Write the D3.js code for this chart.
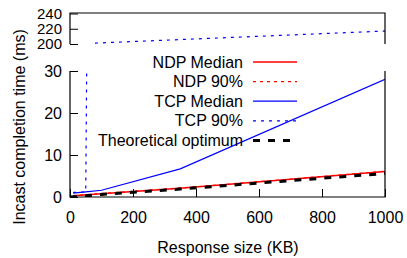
<!DOCTYPE html>
<html>
<head>
<meta charset="utf-8">
<script src="https://cdn.jsdelivr.net/npm/d3@7"></script>
<style>
    body { margin: 0; background: #fff; }
    svg text { font-family: "Liberation Sans", Arial, sans-serif; font-size: 16px; fill: #000; }
</style>
</head>
<body>
<svg id="chart" width="407" height="258"></svg>
<script>
//Response sizes (KB) and completion times (ms) per series
var tcpMedianX = [10, 50, 100, 350, 1000];
var tcpMedianY = [0.9, 1.2, 1.6, 6.7, 28];

var tcp90X = [10, 50, 70, 1000];
var tcp90Y = [1.1, 1.2, 201, 217];

var ndpMedianX = [10, 100, 350, 700, 1000];
var ndpMedianY = [0.3, 0.8, 2.1, 4.2, 6.1];

var ndp90X = [10, 100, 350, 700, 1000];
var ndp90Y = [0.35, 0.85, 2.15, 4.25, 6.15];

var optimumX = [0, 100, 350, 700, 1000];
var optimumY = [0, 0.6, 1.9, 3.9, 5.6];

//Tick labels
var xTicks = [0, 200, 400, 600, 800, 1000];
var yTicksLow = [0, 10, 20, 30];
var yTicksHigh = [200, 220, 240];

//Legend entries
var legendNames = ["NDP Median", "NDP 90%", "TCP Median", "TCP 90%", "Theoretical optimum"];

var svg = d3.select("#chart");

//Scales, the y axis is broken in two panels
var x = d3.scaleLinear().domain([0, 1000]).range([70, 385]);
var yLow = d3.scaleLinear().domain([0, 30]).range([197, 71]);
var yHigh = d3.scaleLinear().domain([200, 240]).range([44, 13.5]);

//Line styles per series
var styles = [
    {x: ndpMedianX, y: ndpMedianY, color: "#ff0000", width: 1.5, dash: null},
    {x: ndp90X, y: ndp90Y, color: "#ff0000", width: 1.2, dash: "3,4"},
    {x: tcpMedianX, y: tcpMedianY, color: "#0000ff", width: 1.2, dash: null},
    {x: tcp90X, y: tcp90Y, color: "#0000ff", width: 1.2, dash: "3,5"},
    {x: optimumX, y: optimumY, color: "#000000", width: 3, dash: "7,8"}
];

//Clip paths for both panels
var defs = svg.append("defs");
defs.append("clipPath").attr("id", "clipLow")
    .append("rect").attr("x", 70).attr("y", 71).attr("width", 315).attr("height", 126);
defs.append("clipPath").attr("id", "clipHigh")
    .append("rect").attr("x", 70).attr("y", 13).attr("width", 315).attr("height", 31);

//Draw one panel of the series
function drawPanel(yScale, clipId){
    var g = svg.append("g").attr("clip-path", "url(#" + clipId + ")");
    styles.forEach(function(s){
        var pts = s.x.map(function(v, i){ return [v, s.y[i]]; });
        var line = d3.line()
            .x(function(d){ return x(d[0]); })
            .y(function(d){ return yScale(d[1]); });
        var p = g.append("path")
            .attr("d", line(pts))
            .attr("fill", "none")
            .attr("stroke", s.color)
            .attr("stroke-width", s.width);
        if (s.dash) p.attr("stroke-dasharray", s.dash);
    });
}

drawPanel(yLow, "clipLow");
drawPanel(yHigh, "clipHigh");

//Axes with inward ticks
function styleAxis(g){
    g.select(".domain").remove();
    g.selectAll(".tick line").attr("stroke", "#000");
    g.selectAll(".tick text").attr("font-size", null).attr("font-family", null);
}

svg.append("g")
    .attr("transform", "translate(0,197)")
    .call(d3.axisBottom(x).tickValues(xTicks).tickFormat(d3.format("d"))
        .tickSizeInner(-8).tickSizeOuter(0).tickPadding(15))
    .call(styleAxis);

svg.append("g")
    .attr("transform", "translate(70,0)")
    .call(d3.axisLeft(yLow).tickValues(yTicksLow).tickSizeInner(-8).tickSizeOuter(0).tickPadding(8))
    .call(styleAxis);

//Top panel labels sit close together, slightly smaller
svg.append("g")
    .attr("transform", "translate(70,0)")
    .call(d3.axisLeft(yHigh).tickValues(yTicksHigh).tickSizeInner(-8).tickSizeOuter(0).tickPadding(8))
    .call(styleAxis)
    .selectAll(".tick text").style("font-size", "15px");

//Frame lines of the two panels
var frame = d3.path();
frame.moveTo(70, 44); frame.lineTo(70, 13); frame.lineTo(385, 13); frame.lineTo(385, 44);
frame.moveTo(70, 71); frame.lineTo(70, 197); frame.lineTo(385, 197); frame.lineTo(385, 71);
svg.append("path")
    .attr("d", frame.toString())
    .attr("fill", "none")
    .attr("stroke", "#000")
    .attr("stroke-width", 1.2);

//Legend
var legend = svg.append("g");
legendNames.forEach(function(name, i){
    var yy = 62 + i * 19.6;
    legend.append("text")
        .attr("x", 243)
        .attr("y", yy)
        .attr("dy", "0.35em")
        .attr("text-anchor", "end")
        .text(name);
    var s = styles[i];
    var l = legend.append("line")
        .attr("x1", 253).attr("x2", 297)
        .attr("y1", yy).attr("y2", yy)
        .attr("stroke", s.color)
        .attr("stroke-width", s.width);
    if (s.dash) l.attr("stroke-dasharray", s.dash);
});

//Axis titles
svg.append("text")
    .attr("x", 228)
    .attr("y", 253)
    .attr("text-anchor", "middle")
    .text("Response size (KB)");

svg.append("text")
    .attr("transform", "translate(25,127) rotate(-90)")
    .attr("text-anchor", "middle")
    .text("Incast completion time (ms)");
</script>
</body>
</html>
